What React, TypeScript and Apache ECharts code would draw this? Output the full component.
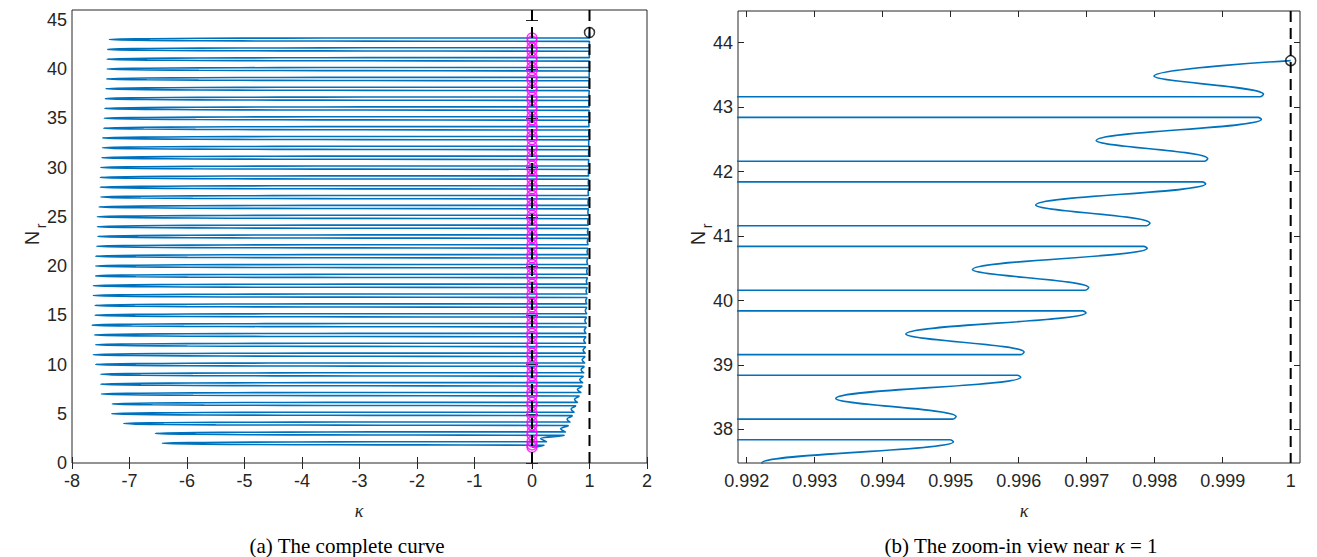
import React, { useEffect, useRef } from "react";
import * as echarts from "echarts";

// ---------- data ----------
// levels (N_r) where the curve folds back on the far left
const tipN = [2, 3, 4, 5, 6, 7, 8, 9, 10, 11, 12, 13, 14, 15, 16, 17, 18, 19, 20, 21, 22, 23, 24, 25, 26, 27, 28, 29, 30, 31, 32, 33, 34, 35, 36, 37, 38, 39, 40, 41, 42, 43];
// kappa of each far-left fold
const tipK = [-6.43, -6.55, -7.10, -7.31, -7.30, -7.49, -7.50, -7.50, -7.59, -7.63, -7.59, -7.61, -7.65, -7.60, -7.60, -7.63, -7.63, -7.59, -7.59, -7.59, -7.57, -7.55, -7.56, -7.56, -7.53, -7.50, -7.51, -7.51, -7.50, -7.48, -7.47, -7.47, -7.45, -7.44, -7.43, -7.42, -7.41, -7.40, -7.39, -7.39, -7.38, -7.35];
// kappa of the right turn just below each fold (N ≈ n - 0.19)
const hiK = [0.21, 0.56, 0.63, 0.70, 0.76, 0.82, 0.87, 0.89, 0.905, 0.92, 0.93, 0.935, 0.94, 0.945, 0.95, 0.954, 0.958, 0.962, 0.965, 0.968, 0.971, 0.974, 0.976, 0.978, 0.98, 0.9815, 0.983, 0.9844, 0.9858, 0.9871, 0.9884, 0.9896, 0.9908, 0.9919, 0.993, 0.99402, 0.99504, 0.99603, 0.99699, 0.99789, 0.99875, 0.99957];
// kappa of the right turn just above each fold (N ≈ n + 0.2)
const loK = [0.25, 0.58, 0.66, 0.73, 0.79, 0.85, 0.88, 0.90, 0.915, 0.925, 0.932, 0.938, 0.943, 0.948, 0.952, 0.956, 0.96, 0.9635, 0.9665, 0.9695, 0.9725, 0.975, 0.977, 0.979, 0.981, 0.9823, 0.9837, 0.9851, 0.9865, 0.9878, 0.989, 0.9902, 0.9914, 0.9925, 0.99305, 0.99406, 0.99508, 0.99608, 0.99703, 0.99793, 0.99878, 0.9996];
// kappa of the inner wiggle between two right turns (N ≈ n + 0.48)
const wigK = [0.15, 0.50, 0.61, 0.68, 0.74, 0.79, 0.83, 0.853, 0.872, 0.888, 0.90, 0.911, 0.92, 0.928, 0.935, 0.941, 0.946, 0.951, 0.955, 0.959, 0.9625, 0.966, 0.969, 0.972, 0.9745, 0.977, 0.979, 0.981, 0.9828, 0.9844, 0.9859, 0.9873, 0.9886, 0.98986, 0.99107, 0.99222, 0.99331, 0.99434, 0.99532, 0.99625, 0.99714, 0.99799];
// vertical offsets (in N) of the branches relative to each fold level
const lineOff = 0.16;
const hiTipOff = 0.19;
const loTipOff = 0.2;
const wigOff = 0.48;
const turnEps = 0.00005;
// how the two branches open up from a far-left fold: [distance in kappa, share of lineOff]
const taper = [[0, 0], [0.2, 0.3], [0.7, 0.55], [1.6, 0.78], [3.0, 0.93], [4.5, 1]];
const curveStart = [0.0, 1.6];
const curveEnd = [1.0, 43.72];
const startCross = 1.6;
const endMarker = [[1.0, 43.72]];
const dashLeftK = [0, 1];
const dashRightK = [1];

// axis ranges and ticks
const leftX = [-8, 2];
const leftY = [0, 46];
const rightX = [0.991872, 1.000137];
const rightY = [37.48, 44.49];
const leftXTicks = [-8, -7, -6, -5, -4, -3, -2, -1, 0, 1, 2];
const leftYTicks = [0, 5, 10, 15, 20, 25, 30, 35, 40, 45];
const rightXTicks = [0.992, 0.993, 0.994, 0.995, 0.996, 0.997, 0.998, 0.999, 1];
const rightYTicks = [38, 39, 40, 41, 42, 43, 44];

function buildCurve(): number[][] {
  const pts: number[][] = [curveStart];
  tipN.forEach((n, i) => {
    pts.push([hiK[i], n - hiTipOff]);
    pts.push([hiK[i] - turnEps, n - lineOff]);
    for (let j = taper.length - 1; j > 0; j--) pts.push([tipK[i] + taper[j][0], n - lineOff * taper[j][1]]);
    pts.push([tipK[i], n]);
    for (let j = 1; j < taper.length; j++) pts.push([tipK[i] + taper[j][0], n + lineOff * taper[j][1]]);
    pts.push([loK[i] - turnEps, n + lineOff]);
    pts.push([loK[i], n + loTipOff]);
    pts.push([wigK[i], n + wigOff]);
  });
  pts.push(curveEnd);
  return pts;
}

function buildCrossings(): number[][] {
  const pts: number[][] = [[0, startCross]];
  tipN.forEach((n) => {
    pts.push([0, n - lineOff]);
    pts.push([0, n + lineOff]);
  });
  return pts;
}

const axisColor = "#262626";
const sans = '"Liberation Sans", Arial, Helvetica, sans-serif';
const serif = '"Liberation Serif", "DejaVu Serif", serif';

function xAxes(gridIndex: number, ext: number[], ticks: number[], fmt: (v: number) => string) {
  return [
    {
      type: "value", gridIndex, min: ext[0], max: ext[1], position: "bottom",
      axisLine: { show: false }, splitLine: { show: false },
      axisTick: { show: true, inside: true, length: 6, customValues: ticks, lineStyle: { color: axisColor, width: 1 } },
      axisLabel: { show: true, customValues: ticks, formatter: fmt, margin: 9, fontFamily: sans, fontSize: 18, color: axisColor },
    },
    {
      type: "value", gridIndex, min: ext[0], max: ext[1], position: "top",
      axisLine: { show: false }, splitLine: { show: false },
      axisTick: { show: true, inside: true, length: 6, customValues: ticks, lineStyle: { color: axisColor, width: 1 } },
      axisLabel: { show: false, customValues: ticks },
    },
  ];
}
function yAxes(gridIndex: number, ext: number[], ticks: number[]) {
  return [
    {
      type: "value", gridIndex, min: ext[0], max: ext[1], position: "left",
      axisLine: { show: false }, splitLine: { show: false },
      axisTick: { show: true, inside: true, length: 6, customValues: ticks, lineStyle: { color: axisColor, width: 1 } },
      axisLabel: { show: true, customValues: ticks, margin: 5, fontFamily: sans, fontSize: 18, color: axisColor },
    },
    {
      type: "value", gridIndex, min: ext[0], max: ext[1], position: "right",
      axisLine: { show: false }, splitLine: { show: false },
      axisTick: { show: true, inside: true, length: 6, customValues: ticks, lineStyle: { color: axisColor, width: 1 } },
      axisLabel: { show: false, customValues: ticks },
    },
  ];
}

const fmtInt = (v: number) => String(Math.round(v));
const fmt3 = (v: number) => String(Number(v.toFixed(3)));

function curveSeries(ax: number, data: number[][]) {
  return {
    type: "line", xAxisIndex: ax, yAxisIndex: ax, data, showSymbol: false, symbol: "none",
    smooth: 0.4, clip: true, silent: true, z: 2,
    lineStyle: { color: "#0072BD", width: 1.6 },
  };
}
function circleSeries(ax: number, data: number[][], color: string, z: number) {
  return {
    type: "scatter", xAxisIndex: ax, yAxisIndex: ax, data, symbol: "circle", symbolSize: 10,
    silent: true, z, clip: false,
    itemStyle: { color: "rgba(0,0,0,0)", borderColor: color, borderWidth: 1.5 },
  };
}
function dashSeries(ax: number, k: number, yExt: number[]) {
  return {
    type: "line", xAxisIndex: ax, yAxisIndex: ax, data: [[k, yExt[1]], [k, yExt[0]]],
    showSymbol: false, symbol: "none", silent: true, z: 6, clip: true,
    lineStyle: { color: "#000000", width: 2, type: [11, 6] },
  };
}

export default function App() {
  const ref = useRef<HTMLDivElement>(null);
  useEffect(() => {
    if (!ref.current) return;
    const chart = echarts.init(ref.current, undefined, { renderer: "svg" });
    const curve = buildCurve();
    const crossings = buildCrossings();
    const gridBase = { show: true, borderColor: axisColor, borderWidth: 1, backgroundColor: "rgba(0,0,0,0)", containLabel: false };
    chart.setOption({
      animation: false,
      backgroundColor: "#ffffff",
      grid: [
        { ...gridBase, left: 72, top: 10, width: 575, height: 453 },
        { ...gridBase, left: 738, top: 11, width: 562, height: 452 },
      ],
      xAxis: [
        ...xAxes(0, leftX, leftXTicks, fmtInt),
        ...xAxes(1, rightX, rightXTicks, fmt3),
      ],
      yAxis: [
        ...yAxes(0, leftY, leftYTicks),
        ...yAxes(1, rightY, rightYTicks),
      ],
      series: [
        curveSeries(0, curve),
        circleSeries(0, crossings, "#FF00FF", 3),
        circleSeries(0, endMarker, "#000000", 4),
        ...dashLeftK.map((k) => dashSeries(0, k, leftY)),
        curveSeries(2, curve),
        circleSeries(2, endMarker, "#000000", 4),
        ...dashRightK.map((k) => dashSeries(2, k, rightY)),
      ],
      graphic: [
        { type: "text", x: 32, y: 238, rotation: Math.PI / 2, style: { text: "N", font: `20px ${sans}`, fill: axisColor, align: "center", verticalAlign: "middle" } },
        { type: "text", x: 41, y: 226, rotation: Math.PI / 2, style: { text: "r", font: `14px ${sans}`, fill: axisColor, align: "center", verticalAlign: "middle" } },
        { type: "text", x: 698, y: 238, rotation: Math.PI / 2, style: { text: "N", font: `20px ${sans}`, fill: axisColor, align: "center", verticalAlign: "middle" } },
        { type: "text", x: 707, y: 226, rotation: Math.PI / 2, style: { text: "r", font: `14px ${sans}`, fill: axisColor, align: "center", verticalAlign: "middle" } },
        { type: "text", x: 359, y: 511, style: { text: "κ", font: `italic 18px ${serif}`, fill: axisColor, align: "center", verticalAlign: "middle" } },
        { type: "text", x: 1024, y: 511, style: { text: "κ", font: `italic 18px ${serif}`, fill: axisColor, align: "center", verticalAlign: "middle" } },
        { type: "text", x: 347, y: 546, style: { text: "(a) The complete curve", font: `21px ${serif}`, fill: "#000", align: "center", verticalAlign: "middle" } },
        {
          type: "text", x: 1021, y: 546,
          style: {
            text: "(b) The zoom-in view near {it|κ} = 1", font: `21px ${serif}`, fill: "#000", align: "center", verticalAlign: "middle",
            rich: { it: { fontStyle: "italic", fontFamily: serif, fontSize: 21, fill: "#000" } },
          },
        },
      ],
    });
    return () => chart.dispose();
  }, []);
  return <div ref={ref} style={{ position: "fixed", left: 0, top: 0, width: 1317, height: 557, background: "#fff" }} />;
}
